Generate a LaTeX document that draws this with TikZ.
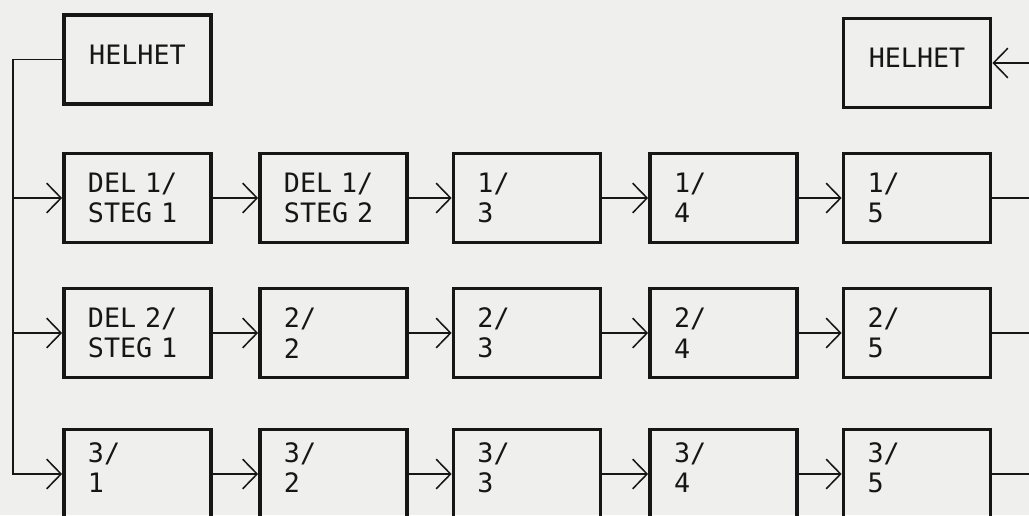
\documentclass[tikz,border=0pt]{standalone}
\usepackage{fontspec}
\setmonofont{DejaVu Sans Mono}
\usetikzlibrary{arrows.meta}
\definecolor{paper}{RGB}{239,239,237}
\definecolor{ink}{RGB}{22,22,22}

\begin{document}
\begin{tikzpicture}[x=0.025cm, y=-0.025cm, color=ink,
  box/.style={draw, line width=2.6pt, minimum width=3.675cm, minimum height=2.225cm,
    inner xsep=0.6cm, text width=2.475cm, align=left,
    font=\ttfamily\fontsize{19}{21.5}\selectfont},
  whole/.style={box, align=center, execute at end node={\rule[-0.25cm]{0pt}{0pt}}},
  cutbox/.style={box, execute at end node={\rule[-0.325cm]{0pt}{0pt}}},
  wire/.style={line width=1.1pt},
  flow/.style={wire, -{Straight Barb[length=0.36cm, width=0.74cm]}}]
  \fill[paper] (0,0) rectangle (1029,515);
  \useasboundingbox (0,0) rectangle (1029,515);
  \coordinate (spine) at (13,0);
  \coordinate (rim) at (1040,0);
  \node[whole] (helhet) at (137.5,59.5) {HELHET};
  \node[whole] (helhetR) at (917,63) {HELHET};
  \node[box] (d1s1) at (137.5,198) {DEL 1/\\STEG 1};
  \node[box] (d1s2) at (333.5,198) {DEL 1/\\STEG 2};
  \node[box] (d1s3) at (527,198) {1/\\3};
  \node[box] (d1s4) at (723.5,198) {1/\\4};
  \node[box] (d1s5) at (917,198) {1/\\5};
  \node[box] (d2s1) at (137.5,333) {DEL 2/\\STEG 1};
  \node[box] (d2s2) at (333.5,333) {2/\\2};
  \node[box] (d2s3) at (527,333) {2/\\3};
  \node[box] (d2s4) at (723.5,333) {2/\\4};
  \node[box] (d2s5) at (917,333) {2/\\5};
  \node[cutbox] (d3s1) at (137.5,474) {3/\\1};
  \node[cutbox] (d3s2) at (333.5,474) {3/\\2};
  \node[cutbox] (d3s3) at (527,474) {3/\\3};
  \node[cutbox] (d3s4) at (723.5,474) {3/\\4};
  \node[cutbox] (d3s5) at (917,474) {3/\\5};
  \draw[flow] (helhet.west) -- (helhet.west -| spine) |- (d3s1.west);
  \draw[flow] (d1s1.west -| spine) -- (d1s1.west);
  \draw[flow] (d2s1.west -| spine) -- (d2s1.west);
  \draw[flow] (d1s1) -- (d1s2);
  \draw[flow] (d1s2) -- (d1s3);
  \draw[flow] (d1s3) -- (d1s4);
  \draw[flow] (d1s4) -- (d1s5);
  \draw[flow] (d2s1) -- (d2s2);
  \draw[flow] (d2s2) -- (d2s3);
  \draw[flow] (d2s3) -- (d2s4);
  \draw[flow] (d2s4) -- (d2s5);
  \draw[flow] (d3s1) -- (d3s2);
  \draw[flow] (d3s2) -- (d3s3);
  \draw[flow] (d3s3) -- (d3s4);
  \draw[flow] (d3s4) -- (d3s5);
  \draw[wire] (d1s5.east) -- (d1s5.east -| rim);
  \draw[wire] (d2s5.east) -- (d2s5.east -| rim);
  \draw[wire] (d3s5.east) -- (d3s5.east -| rim);
  \draw[flow] (helhetR.east -| rim) -- (helhetR.east);
\end{tikzpicture}
\end{document}
